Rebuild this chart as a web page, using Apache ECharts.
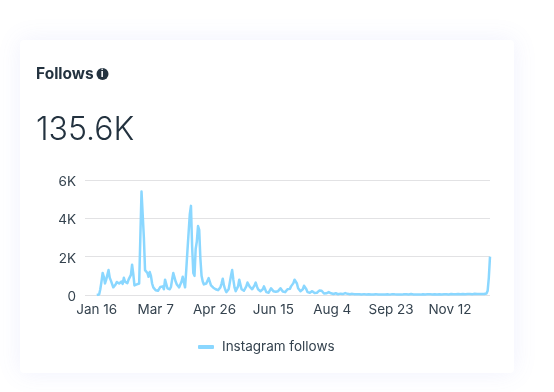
<!DOCTYPE html>
<html>
<head>
<meta charset="utf-8">
<title>Follows</title>
<script src="https://cdn.jsdelivr.net/npm/echarts@6/dist/echarts.min.js"></script>
<style>
html,body{margin:0;padding:0;background:#fff;}
#main{width:554px;height:392px;}
</style>
</head>
<body>
<div id="main"></div>
<script>
var chartTitle='Follows';
var totalText='135.6K';
var seriesName='Instagram follows';
var tickLabels=['Jan 16','Mar 7','Apr 26','Jun 15','Aug 4','Sep 23','Nov 12'];
var monthNames=['Jan','Feb','Mar','Apr','May','Jun','Jul','Aug','Sep','Oct','Nov','Dec'];
var monthDays=[31,28,31,30,31,30,31,31,30,31,30,31];

// 前10天没有数据
var follows=[
null,null,null,null,null,null,null,null,null,null,
0,0,30,300,700,1150,950,600,800,1050,
1300,900,750,780,400,450,550,680,580,600,
520,700,580,900,700,600,620,800,850,1050,
1580,1100,500,450,550,530,600,680,5400,5400,
3000,1300,1200,1150,950,1200,1000,600,400,300,
250,200,220,300,420,320,450,300,800,700,
350,350,300,420,800,1150,1250,700,550,500,
400,380,700,950,650,400,1300,2300,2200,4200,
4650,2500,1150,1000,2400,2800,3600,3400,1900,1000,
700,550,500,600,700,880,900,500,450,380,
450,300,280,250,180,400,600,850,500,300,
150,180,300,650,1000,1300,800,400,200,220,
450,800,550,300,200,220,300,450,650,620,
420,380,300,350,500,650,450,300,220,200,
250,300,450,300,150,100,120,200,350,320,
200,150,170,150,200,250,350,280,180,170,
150,220,300,400,320,450,500,620,800,850,
600,350,250,200,220,300,480,500,300,150,
100,120,170,200,150,110,90,120,180,230,
300,220,120,80,70,90,120,150,130,90,
60,50,70,90,60,40,50,70,50,50,
60,100,90,60,50,40,45,60,50,35,
30,40,55,40,30,25,35,45,30,25,
30,40,30,25,20,30,35,45,30,25,
20,30,40,30,25,30,40,35,25,20,
30,45,50,35,25,30,40,30,25,20,
25,35,45,35,25,30,40,50,40,30,
25,30,35,30,25,20,30,40,35,25,
30,45,60,45,30,25,35,40,30,25,
30,40,35,30,30,35,45,40,35,30,
40,50,45,35,30,35,45,50,40,35,
40,55,45,40,45,50,60,55,50,45,
50,60,55,50,45,55,60,50,45,50,
50,80,220,900,2000
];

var categories=[];
for(var m=0,d=6;categories.length<follows.length;){
	categories.push(monthNames[m]+' '+d);
	d++;
	if(d>monthDays[m]){d=1;m++;}
}

var myChart=echarts.init(document.getElementById('main'),null,{renderer:'canvas'});
var fontName='Inter, "Noto Sans", sans-serif';
myChart.setOption({
	animation:false,
	backgroundColor:'#ffffff',
	textStyle:{fontFamily:fontName},
	grid:{left:85,right:64,top:180,height:115,containLabel:false},
	legend:{
		data:[{name:seriesName,icon:'roundRect'}],
		left:193,top:335,
		itemWidth:16,itemHeight:4,
		textStyle:{color:'#34424e',fontSize:13.5,fontFamily:fontName,padding:[0,0,0,3]}
	},
	xAxis:{
		type:'category',
		data:categories,
		boundaryGap:false,
		axisLine:{show:false},
		axisTick:{show:false},
		axisLabel:{
			color:'#34424e',fontSize:13.5,margin:8,fontFamily:fontName,
			interval:function(idx,val){return tickLabels.indexOf(val)>-1;}
		}
	},
	yAxis:{
		type:'value',
		min:0,max:6000,interval:2000,
		axisLine:{show:false},
		axisTick:{show:false},
		splitLine:{lineStyle:{color:'#e2e2e4',width:1.2}},
		axisLabel:{
			color:'#34424e',fontSize:13.5,margin:9,fontFamily:fontName,verticalAlign:'top',padding:[-5,0,0,0],
			formatter:function(v){return v===0?'0':(v/1000)+'K';}
		}
	},
	series:[{
		name:seriesName,
		type:'line',
		data:follows,
		showSymbol:false,
		color:'#8ad7ff',
		lineStyle:{color:'#8ad7ff',width:2.5,join:'round'},
		itemStyle:{color:'#8ad7ff'}
	}],
	graphic:[
		{type:'rect',z:-10,silent:true,shape:{x:20,y:40,width:494,height:333,r:4},
			style:{fill:'#fff',shadowColor:'rgba(110,120,240,0.10)',shadowBlur:24}},
		{type:'text',left:36,top:66,z:5,style:{text:chartTitle,fill:'#23323f',font:'bold 15.5px '+fontName}},
		{type:'circle',z:5,shape:{cx:102.5,cy:74,r:6},style:{fill:'#23323f'}},
		{type:'text',left:100.8,top:68,z:6,style:{text:'i',fill:'#fff',font:'bold 10.5px '+fontName}},
		{type:'text',left:36,top:114,z:5,style:{text:totalText,fill:'#23323f',font:'300 32px '+fontName}}
	]
});
</script>
</body>
</html>
